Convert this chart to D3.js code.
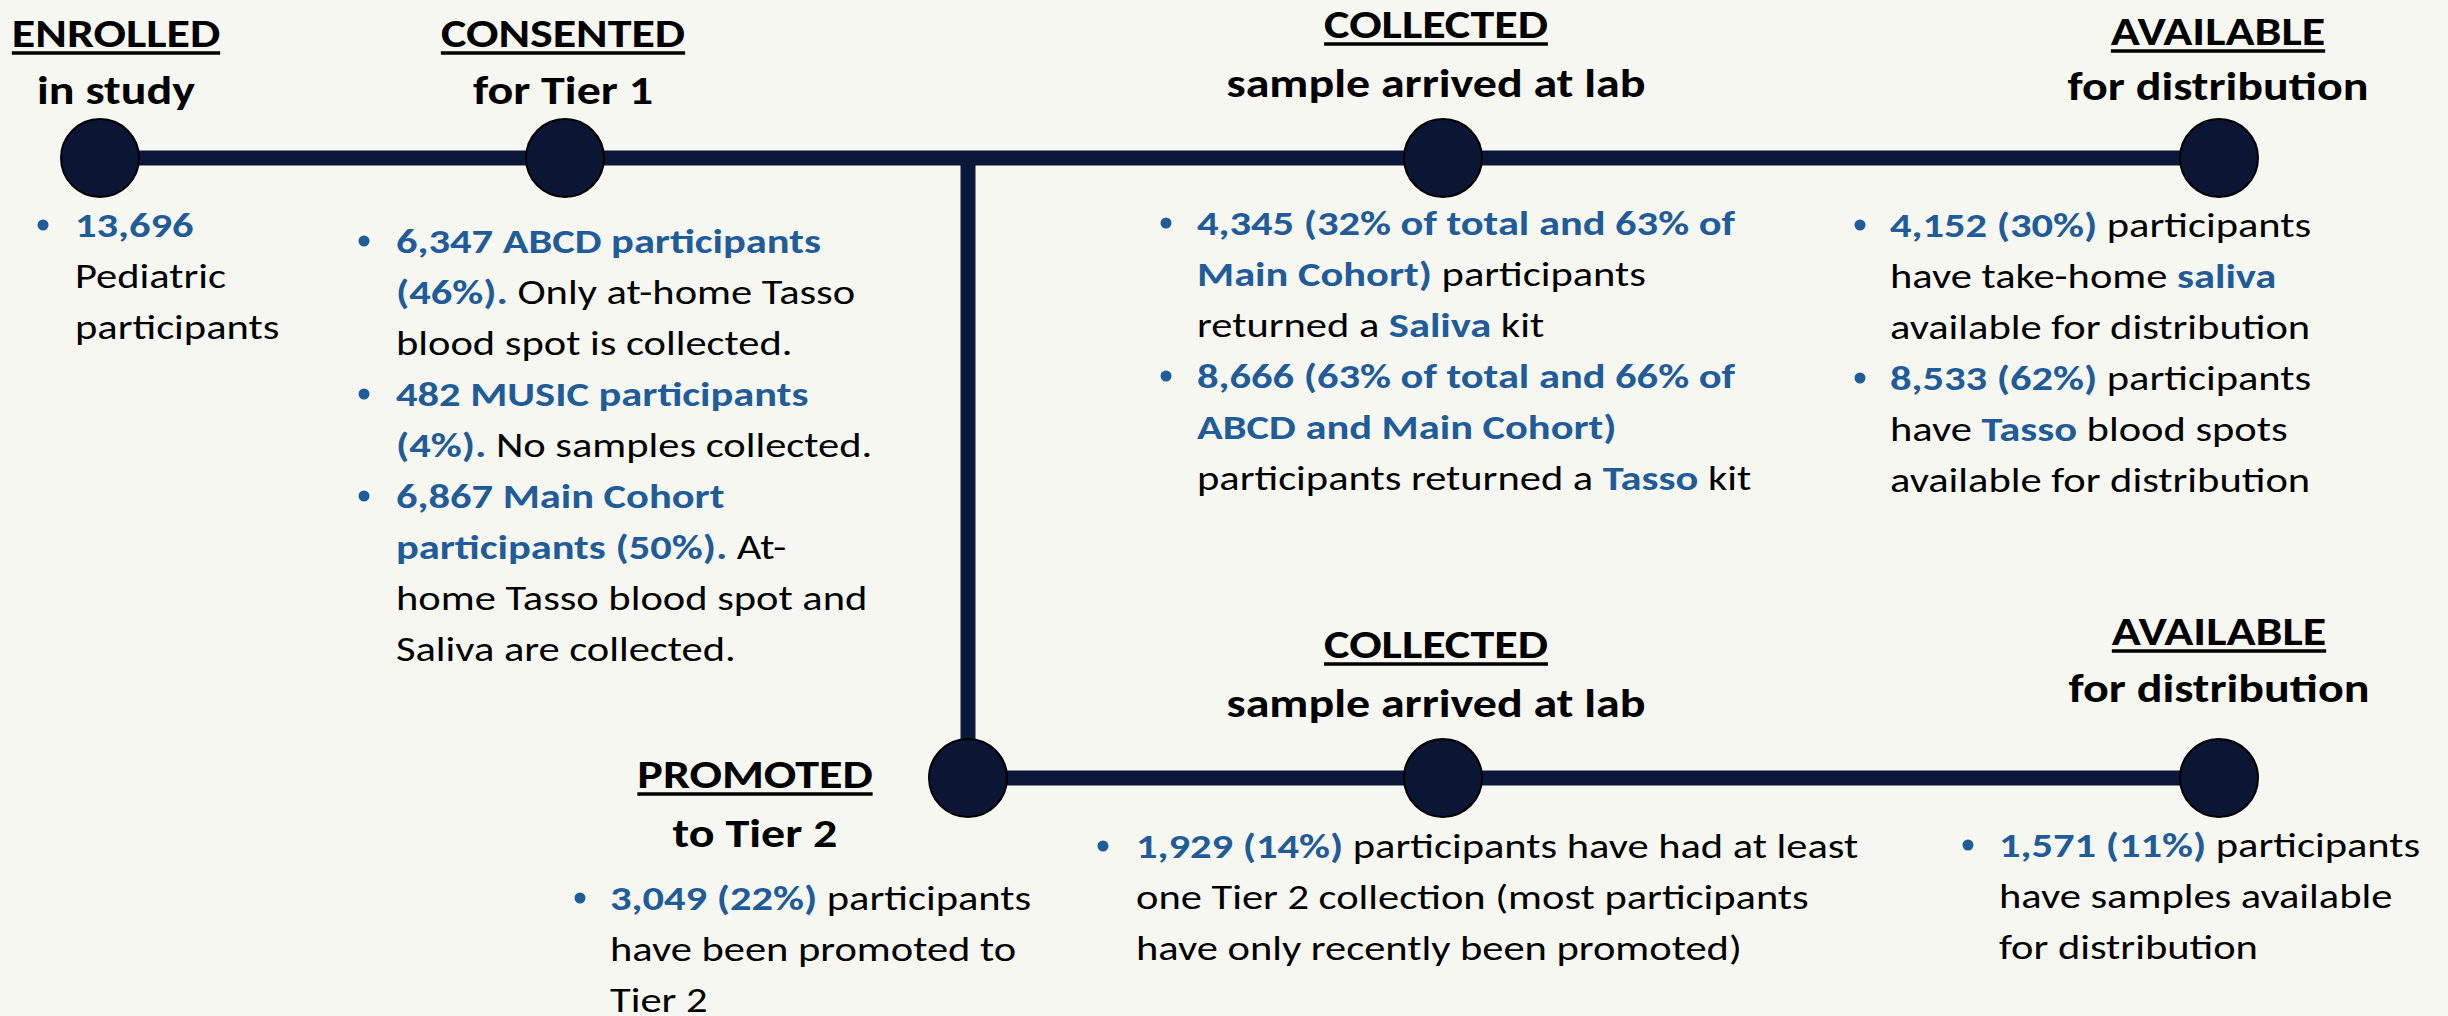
<!DOCTYPE html>
<html>
<head>
<meta charset="utf-8">
<script src="https://cdn.jsdelivr.net/npm/d3@7"></script>
<style>
  body { margin: 0; background: #f7f7f2; }
  svg { display: block; }
  text { font-family: Carlito, Calibri, Lato, sans-serif; }
  .title, .subtitle { font-weight: 700; font-size: 40px; fill: #000; text-anchor: middle; }
  .note { font-size: 34px; fill: #000; }
  .blue { fill: #1f5c99; font-weight: 700; }
</style>
</head>
<body>
<script>
WIDTH = 2448
HEIGHT = 1016
LINEGAP = 51
HEADSTRETCH = 1.2
NOTESTRETCH = 1.25

// stages of the sample flow
var stages = ["enrolled", "consented", "collected", "available", "promoted", "collected2", "available2"]
var titles = ["ENROLLED", "CONSENTED", "COLLECTED", "AVAILABLE", "PROMOTED", "COLLECTED", "AVAILABLE"]
var subtitles = ["in study", "for Tier 1", "sample arrived at lab", "for distribution",
                 "to Tier 2", "sample arrived at lab", "for distribution"]

// notes per stage, {..} marks the blue bold parts
var enrolledNotes = [["{13,696}", "Pediatric", "participants"]]
var consentedNotes = [
  ["{6,347 ABCD participants}", "{(46%).} Only at-home Tasso", "blood spot is collected."],
  ["{482 MUSIC participants}", "{(4%).} No samples collected."],
  ["{6,867 Main Cohort}", "{participants (50%).} At-", "home Tasso blood spot and", "Saliva are collected."]
]
var collectedNotes = [
  ["{4,345 (32% of total and 63% of}", "{Main Cohort)} participants", "returned a {Saliva} kit"],
  ["{8,666 (63% of total and 66% of}", "{ABCD and Main Cohort)}", "participants returned a {Tasso} kit"]
]
var availableNotes = [
  ["{4,152 (30%)} participants", "have take-home {saliva}", "available for distribution"],
  ["{8,533 (62%)} participants", "have {Tasso} blood spots", "available for distribution"]
]
var promotedNotes = [["{3,049 (22%)} participants", "have been promoted to", "Tier 2"]]
var collected2Notes = [["{1,929 (14%)} participants have had at least",
                        "one Tier 2 collection (most participants",
                        "have only recently been promoted)"]]
var available2Notes = [["{1,571 (11%)} participants", "have samples available", "for distribution"]]
var notes = [enrolledNotes, consentedNotes, collectedNotes, availableNotes,
             promotedNotes, collected2Notes, available2Notes]

// layout
var colX = d3.scaleOrdinal()
  .domain(["enrolled", "consented", "branch", "collected", "available"])
  .range([100, 565, 968, 1443, 2219])
var rowY = d3.scaleOrdinal().domain(["tier1", "tier2"]).range([158, 778])

var nodeCol = ["enrolled", "consented", "collected", "available", "branch", "collected", "available"]
var nodeRow = ["tier1", "tier1", "tier1", "tier1", "tier2", "tier2", "tier2"]
// heading centre x, title baseline, subtitle baseline
var headX = [116, 563, 1436, 2218, 755, 1436, 2219]
var headY = [47, 47, 38, 45, 788, 658, 645]
var subY = [104, 104, 97, 100, 847, 717, 702]
// note blocks: bullet x, text x, first baseline
var noteBulletX = [43, 364, 1166, 1860, 580, 1103, 1968]
var noteTextX = [75, 396, 1197, 1890, 610, 1136, 1999]
var noteY = [237, 253, 235, 237, 910, 858, 857]

window.onload = function() {
  drawChart()
}

function place(x, y, sx)
{
  return "translate(" + x + "," + y + ") scale(" + sx + ",1)"
}

function drawChart()
{
  var svg = d3.select("body").append("svg")
    .attr("width", WIDTH).attr("height", HEIGHT)
  svg.append("rect").attr("width", WIDTH).attr("height", HEIGHT).attr("fill", "#f7f7f2")

  var lines = svg.append("g").attr("stroke", "#0a1738").attr("stroke-width", 15).attr("fill", "none")
  lines.append("line")
    .attr("x1", colX("enrolled")).attr("y1", rowY("tier1"))
    .attr("x2", colX("available")).attr("y2", rowY("tier1"))
  lines.append("line")
    .attr("x1", colX("branch")).attr("y1", rowY("tier1"))
    .attr("x2", colX("branch")).attr("y2", rowY("tier2"))
  lines.append("line")
    .attr("x1", colX("branch")).attr("y1", rowY("tier2"))
    .attr("x2", colX("available")).attr("y2", rowY("tier2"))

  svg.append("g").selectAll("circle").data(stages).join("circle")
    .attr("cx", function(d, i) { return colX(nodeCol[i]) })
    .attr("cy", function(d, i) { return rowY(nodeRow[i]) })
    .attr("r", 39)
    .attr("fill", "#0a1633")
    .attr("stroke", "#000").attr("stroke-width", 2)

  // headings
  stages.forEach(function(stage, i)
  {
    var t = svg.append("text").attr("class", "title")
      .attr("transform", place(headX[i], headY[i], HEADSTRETCH)).text(titles[i])
    var box = t.node().getBBox()
    svg.append("line")
      .attr("x1", headX[i] + box.x * HEADSTRETCH)
      .attr("x2", headX[i] + (box.x + box.width) * HEADSTRETCH)
      .attr("y1", headY[i] + 6).attr("y2", headY[i] + 6)
      .attr("stroke", "#000").attr("stroke-width", 3.5)
    svg.append("text").attr("class", "subtitle")
      .attr("transform", place(headX[i], subY[i], HEADSTRETCH)).text(subtitles[i])
  })

  // notes
  stages.forEach(function(stage, i)
  {
    var row = 0
    notes[i].forEach(function(item)
    {
      svg.append("circle")
        .attr("cx", noteBulletX[i]).attr("cy", noteY[i] + row * LINEGAP - 12)
        .attr("r", 5.5).attr("fill", "#1f5c99")
      item.forEach(function(line)
      {
        var text = svg.append("text").attr("class", "note")
          .attr("transform", place(noteTextX[i], noteY[i] + row * LINEGAP, NOTESTRETCH))
        line.split(/(\{[^}]*\})/).forEach(function(part)
        {
          if (part === "") return
          if (part[0] === "{")
          {
            text.append("tspan").attr("class", "blue").text(part.slice(1, -1))
          }
          else
          {
            text.append("tspan").text(part)
          }
        })
        row++
      })
    })
  })
}
</script>
</body>
</html>
